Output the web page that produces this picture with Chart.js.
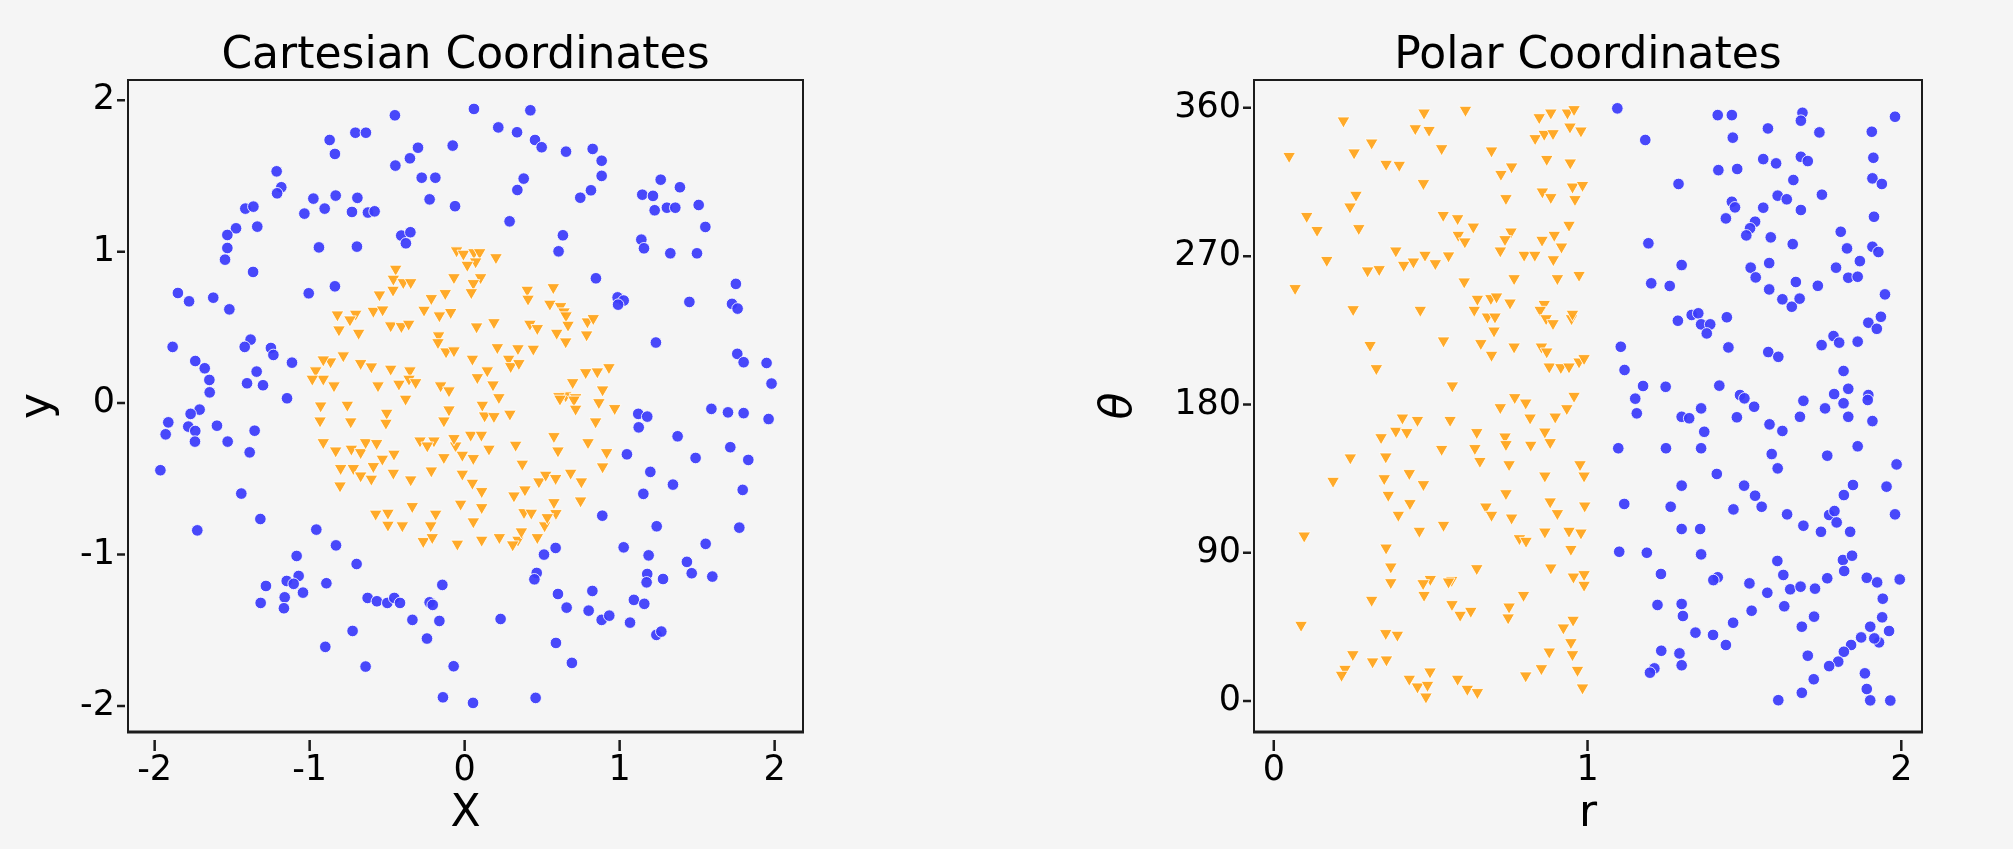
<!DOCTYPE html>
<html>
<head>
<meta charset="utf-8">
<title>Cartesian and Polar Coordinates</title>
<script src="https://cdn.jsdelivr.net/npm/chart.js@4.4.1/dist/chart.umd.min.js"></script>
<style>
  html, body { margin: 0; padding: 0; background: #f5f5f5; }
  #wrap { position: relative; width: 2013px; height: 849px; overflow: hidden; }
  canvas { position: absolute; top: 0; }
  #cart { left: 0; }
  #polar { left: 1000px; }
</style>
</head>
<body>
<div id="wrap">
  <canvas id="cart" width="1000" height="849"></canvas>
  <canvas id="polar" width="1013" height="849"></canvas>
</div>
<script>
const cartTicks = [-2, -1, 0, 1, 2];
const rTicks = [0, 1, 2];
const thetaTicks = [0, 90, 180, 270, 360];

// outer ring (blue dots), [x, y]
const cartOuter = [
  [-0.45,1.90],[-0.705,1.785],[-0.637,1.785],[-0.871,1.737],[-0.837,1.645],[-0.301,1.686],[-0.077,1.70],[-0.353,1.616],
  [-0.447,1.568],[-0.277,1.488],[-0.189,1.488],[-0.226,1.345],[-0.062,1.30],[-1.213,1.53],[-1.183,1.425],[-1.21,1.385],
  [-0.976,1.35],[-0.832,1.37],[-0.692,1.355],[-0.903,1.284],[-1.034,1.251],[-0.727,1.262],[-0.624,1.258],[-0.581,1.266],
  [-1.415,1.284],[-1.363,1.297],[-1.475,1.154],[-1.531,1.11],[-1.338,1.165],[-1.531,1.024],[-1.546,0.947],[-1.365,0.866],
  [-0.94,1.028],[-0.695,1.033],[-0.409,1.106],[-0.35,1.128],[-0.379,1.055],[-0.837,0.771],[-1.006,0.725],[-1.85,0.727],
  [-1.778,0.672],[-1.622,0.696],[-1.518,0.619],[-1.884,0.371],[-1.381,0.419],[-1.419,0.371],[-1.25,0.364],[-1.234,0.318],
  [-1.114,0.267],[-1.738,0.278],[-1.677,0.23],[-1.647,0.153],[-1.645,0.071],[-1.342,0.208],[-1.404,0.131],[-1.301,0.118],
  [-1.146,0.032],
  [0.06,1.942],[0.424,1.933],[0.217,1.82],[0.338,1.788],[0.454,1.737],[0.497,1.689],[0.654,1.66],[0.826,1.678],
  [0.884,1.60],[0.884,1.50],[0.815,1.405],[0.746,1.356],[0.381,1.482],[0.34,1.407],[0.29,1.20],[0.634,1.108],
  [0.606,1.002],[1.265,1.475],[1.389,1.425],[1.146,1.376],[1.215,1.368],[1.226,1.273],[1.305,1.29],[1.359,1.29],
  [1.51,1.308],[1.553,1.163],[1.14,1.079],[1.157,1.022],[1.327,0.989],[1.499,0.989],[0.847,0.824],[0.987,0.698],
  [1.026,0.677],[0.99,0.65],[1.45,0.668],[1.75,0.787],[1.725,0.655],[1.761,0.624],[1.234,0.40],[1.759,0.325],
  [1.80,0.27],[1.948,0.265],[1.98,0.129],
  [-1.71,-0.043],[-1.768,-0.071],[-1.912,-0.127],[-1.929,-0.206],[-1.783,-0.155],[-1.738,-0.184],[-1.74,-0.254],[-1.598,-0.149],
  [-1.529,-0.254],[-1.355,-0.182],[-1.387,-0.325],[-1.963,-0.443],[-1.441,-0.597],[-1.318,-0.765],[-1.725,-0.84],[-0.957,-0.835],
  [-0.83,-0.939],[-0.697,-1.062],[-1.084,-1.009],[-1.071,-1.141],[-1.148,-1.174],[-1.103,-1.193],[-1.043,-1.251],[-1.282,-1.207],
  [-1.161,-1.282],[-1.166,-1.354],[-1.316,-1.319],[-0.892,-1.189],[-0.626,-1.286],[-0.566,-1.308],[-0.499,-1.319],[-0.454,-1.286],
  [-0.417,-1.319],[-0.226,-1.315],[-0.206,-1.332],[-0.144,-1.20],[-0.337,-1.431],[-0.163,-1.438],[-0.723,-1.504],[-0.243,-1.554],
  [-0.899,-1.609],[-0.639,-1.739],[-0.071,-1.737],[-0.14,-1.942],
  [1.12,-0.071],[1.178,-0.089],[1.123,-0.16],[1.592,-0.038],[1.699,-0.061],[1.80,-0.066],[1.961,-0.105],[1.374,-0.219],
  [1.047,-0.338],[1.49,-0.362],[1.714,-0.291],[1.83,-0.375],[1.198,-0.454],[1.344,-0.538],[1.153,-0.599],[1.794,-0.573],
  [0.888,-0.743],[1.239,-0.813],[1.772,-0.822],[1.555,-0.929],[0.587,-0.956],[0.512,-1.0],[1.026,-0.952],[1.187,-1.005],
  [1.434,-1.048],[1.465,-1.123],[1.598,-1.145],[0.465,-1.121],[0.45,-1.163],[1.178,-1.128],[1.174,-1.183],[1.28,-1.161],
  [0.602,-1.26],[0.824,-1.24],[0.658,-1.35],[0.80,-1.37],[0.884,-1.431],[0.933,-1.403],[1.092,-1.299],[1.159,-1.325],
  [1.067,-1.449],[1.237,-1.53],[1.269,-1.508],[0.232,-1.425],[0.589,-1.583],[0.692,-1.715],[0.054,-1.979],[0.458,-1.946]
];

// inner disc (orange triangles), [x, y]
const cartInner = [
  [-0.052,1.007],[-0.008,0.985],[0.06,0.995],[0.097,0.995],[0.071,0.934],[0.017,0.912],[0.202,0.962],[-0.445,0.886],
  [-0.46,0.82],[-0.396,0.797],[-0.348,0.797],[-0.069,0.83],[0.103,0.83],[0.056,0.791],[0.043,0.731],[-0.55,0.716],
  [-0.462,0.747],[-0.215,0.692],[-0.125,0.725],[0.404,0.747],[0.409,0.688],[0.572,0.764],[-0.589,0.608],[-0.529,0.617],
  [-0.262,0.615],[-0.163,0.578],[-0.09,0.60],[0.55,0.655],[0.619,0.639],[0.641,0.604],[0.654,0.578],[-0.821,0.584],
  [-0.703,0.589],[-0.74,0.551],[-0.811,0.485],[-0.684,0.463],[-0.477,0.512],[-0.408,0.507],[-0.361,0.523],[0.077,0.505],
  [0.189,0.533],[0.421,0.523],[0.469,0.494],[0.667,0.516],[0.792,0.538],[0.83,0.56],[0.787,0.452],[0.594,0.463],
  [0.652,0.406],[-0.168,0.446],[-0.172,0.401],[-0.12,0.34],[-0.069,0.347],[0.211,0.368],[0.344,0.361],[0.443,0.358],
  [0.284,0.292],[0.297,0.243],[0.35,0.263],[0.05,0.292],[0.082,0.17],[0.146,0.215],[-0.865,0.274],[-0.912,0.287],
  [-0.783,0.314],[-0.961,0.215],[-0.912,0.16],[-0.843,0.116],[-0.983,0.16],[-0.671,0.263],[-0.602,0.241],[-0.477,0.226],
  [-0.353,0.215],[-0.359,0.16],[-0.424,0.127],[-0.316,0.137],[-0.559,0.116],[-0.155,0.116],[-0.101,0.083],[0.183,0.122],
  [0.221,0.038],[0.781,0.203],[0.856,0.208],[0.931,0.236],[0.697,0.137],[0.89,0.089],[0.652,0.05],[0.716,0.038],
  [0.608,0.045],
  [-0.929,-0.017],[-0.933,-0.116],[-0.757,-0.012],[-0.735,-0.122],[-0.503,-0.065],[-0.508,-0.131],[-0.381,0.028],[-0.101,-0.043],
  [-0.134,-0.116],[0.114,-0.012],[0.129,-0.083],[0.189,-0.087],[0.292,-0.071],[0.615,0.028],[0.705,0.022],[0.716,-0.038],
  [0.866,0.005],[0.968,-0.034],[0.845,-0.122],[-0.912,-0.259],[-0.832,-0.314],[-0.731,-0.302],[-0.671,-0.325],[-0.639,-0.259],
  [-0.568,-0.265],[-0.456,-0.335],[-0.531,-0.368],[-0.288,-0.248],[-0.198,-0.248],[-0.241,-0.281],[-0.134,-0.358],[-0.058,-0.281],
  [-0.015,-0.342],[0.056,-0.364],[0.039,-0.21],[0.108,-0.21],[0.157,-0.302],[-0.069,-0.232],[0.329,-0.276],[0.372,-0.401],
  [0.576,-0.219],[0.602,-0.314],[0.796,-0.259],[0.916,-0.325],[0.89,-0.419],[-0.80,-0.43],[-0.718,-0.43],[-0.671,-0.479],
  [-0.602,-0.5],[-0.589,-0.417],[-0.46,-0.461],[-0.804,-0.545],[-0.348,-0.505],[-0.215,-0.446],[-0.015,-0.467],[0.05,-0.527],
  [0.11,-0.582],[0.479,-0.518],[0.523,-0.474],[0.587,-0.496],[0.684,-0.461],[0.753,-0.518],[0.748,-0.644],[0.318,-0.611],
  [0.389,-0.571],[0.576,-0.655],[0.589,-0.727],[-0.574,-0.731],[-0.495,-0.725],[-0.495,-0.804],[-0.402,-0.808],[-0.338,-0.681],
  [-0.219,-0.808],[-0.187,-0.731],[-0.026,-0.665],[0.11,-0.688],[0.056,-0.782],[0.383,-0.721],[0.43,-0.725],[0.516,-0.808],
  [0.533,-0.754],[-0.267,-0.912],[-0.209,-0.886],[-0.047,-0.929],[0.11,-0.903],[0.224,-0.886],[0.344,-0.903],[0.31,-0.934],
  [0.366,-0.848],[0.469,-0.886]
];

// polar view, [r, theta in degrees]
const polarOuter = [
  [1.095,359.7],[1.184,340.5],[1.29,313.8],[1.194,277.8],[1.30,264.6],[1.203,253.5],[1.262,251.9],[1.288,230.8],
  [1.332,234.3],[1.353,235.3],[1.362,228.6],[1.391,228.6],[1.38,223.1],[1.444,232.9],[1.106,215.0],[1.118,200.9],
  [1.177,191.2],[1.249,190.7],[1.152,183.5],[1.42,191.4],[1.486,185.7],[1.50,183.7],[1.531,178.6],[1.362,177.6],
  [1.415,355.6],[1.46,355.6],[1.463,341.9],[1.417,322.2],[1.477,322.9],[1.575,347.5],[1.56,328.9],[1.601,326.3],
  [1.656,316.2],[1.606,306.7],[1.635,304.5],[1.68,298.0],[1.56,299.4],[1.46,303.0],[1.47,299.6],[1.441,292.9],
  [1.534,290.9],[1.518,286.9],[1.506,282.6],[1.584,281.4],[1.654,277.3],[1.685,357.0],[1.68,352.2],[1.739,345.1],
  [1.68,330.3],[1.702,327.7],[1.747,307.3],[1.52,263.0],[1.536,257.1],[1.579,265.8],[1.579,249.8],[1.664,254.3],
  [1.734,252.0],[1.621,243.8],[1.651,239.3],[1.676,244.2],[1.807,284.8],[1.827,274.7],[1.868,267.0],[1.792,263.0],
  [1.831,256.9],[1.861,257.5],[1.906,345.5],[1.911,329.7],[1.908,317.2],[1.938,313.8],[1.913,293.9],[1.908,275.7],
  [1.927,272.5],[1.98,354.6],[1.948,246.8],[1.935,233.2],[1.895,229.6],[1.922,225.9],[1.784,221.5],[1.802,217.5],
  [1.746,216.0],[1.861,218.1],[1.576,211.8],[1.608,208.9],[1.449,214.6],[1.816,200.3],[1.831,189.5],[1.786,186.3],
  [1.816,180.7],[1.895,185.7],[1.893,182.7],[1.688,182.2],[1.757,177.6],
  [1.157,174.6],[1.30,172.5],[1.324,171.6],[1.476,172.2],[1.58,167.9],[1.621,163.9],[1.372,163.4],[1.677,172.5],
  [1.831,172.5],[1.908,169.9],[1.098,153.4],[1.25,153.4],[1.362,153.4],[1.587,149.9],[1.606,141.2],[1.764,148.9],
  [1.861,154.6],[1.985,143.6],[1.412,137.8],[1.30,130.7],[1.499,130.7],[1.534,124.6],[1.555,117.9],[1.465,116.3],
  [1.636,113.3],[1.688,106.4],[1.117,119.6],[1.265,117.9],[1.30,104.4],[1.359,104.4],[1.744,102.7],[1.837,102.7],
  [1.77,112.9],[1.787,115.3],[1.794,108.4],[1.817,125.0],[1.846,131.1],[1.953,130.1],[1.98,113.3],[1.101,90.6],
  [1.189,90.0],[1.362,89.0],[1.234,77.1],[1.415,75.1],[1.401,73.4],[1.516,71.4],[1.573,65.7],[1.605,85.0],
  [1.624,76.5],[1.646,67.8],[1.679,69.4],[1.725,68.2],[1.764,74.5],[1.814,85.6],[1.843,88.2],[1.818,78.9],
  [1.89,74.8],[1.923,72.0],[1.995,73.8],[1.941,62.1],[1.223,58.3],[1.30,58.9],[1.304,51.6],[1.627,57.5],
  [1.523,54.8],[1.464,47.5],[1.344,41.5],[1.40,40.1],[1.441,34.0],[1.683,45.1],[1.722,51.2],[1.901,45.1],
  [1.939,50.8],[1.961,42.5],[1.872,38.6],[1.929,35.6],[1.914,38.0],[1.84,34.0],[1.817,29.9],[1.799,23.9],
  [1.77,21.2],[1.702,27.5],[1.235,30.5],[1.293,28.9],[1.30,21.7],[1.213,19.8],[1.199,17.2],[1.721,13.2],
  [1.683,5.0],[1.608,0.5],[1.884,16.8],[1.89,7.3],[1.901,0.4],[1.965,0.3]
];

const polarInner = [
  [0.049,330.7],[0.068,250.5],[0.105,294.3],[0.138,285.8],[0.169,267.6],[0.222,352.2],[0.256,332.8],[0.262,307.1],
  [0.243,300.0],[0.271,286.9],[0.253,237.7],[0.307,216.0],[0.327,201.9],[0.299,261.2],[0.336,262.0],[0.312,338.8],
  [0.358,325.9],[0.40,325.3],[0.451,347.5],[0.479,357.0],[0.495,346.5],[0.535,335.4],[0.477,314.2],[0.611,358.7],
  [0.54,294.9],[0.586,292.9],[0.636,287.8],[0.588,282.8],[0.609,278.8],[0.389,273.3],[0.414,264.6],[0.445,266.6],
  [0.482,270.7],[0.515,265.6],[0.557,270.3],[0.467,237.3],[0.541,218.7],[0.569,191.4],[0.607,254.5],[0.649,244.0],
  [0.639,237.3],[0.681,233.2],[0.692,244.4],[0.71,245.4],[0.705,233.2],[0.702,224.7],[0.753,241.7],[0.66,217.1],
  [0.694,210.0],[0.766,215.0],[0.694,334.0],[0.724,319.8],[0.758,324.3],[0.74,305.1],[0.756,284.8],[0.737,280.2],
  [0.722,273.3],[0.798,270.7],[0.832,270.7],[0.766,256.5],[0.855,279.8],[0.894,282.8],[0.917,275.7],[0.891,268.0],
  [0.904,256.5],[0.973,258.5],[0.941,288.9],[0.846,354.2],[0.883,357.0],[0.936,357.0],[0.957,359.1],[0.833,341.5],
  [0.862,344.1],[0.89,344.5],[0.944,348.5],[0.979,346.1],[0.87,328.9],[0.945,326.7],[0.856,309.1],[0.883,305.7],
  [0.952,312.1],[0.984,313.1],[0.96,304.5],[0.862,240.9],[0.849,237.3],[0.868,232.2],[0.89,229.2],[0.949,232.2],
  [0.952,234.9],[0.853,215.0],[0.87,212.0],[0.878,202.9],[0.915,202.5],[0.941,202.9],[0.973,205.9],[0.989,208.0],
  [0.957,185.1],[0.934,177.6],[0.722,178.2],[0.768,184.3],[0.803,181.0],
  [0.817,171.9],[0.897,172.5],[0.41,171.9],[0.458,170.5],[0.562,170.5],[0.342,160.0],[0.389,163.9],[0.424,163.1],
  [0.647,163.1],[0.737,160.4],[0.74,155.8],[0.819,155.4],[0.864,163.4],[0.881,157.0],[0.244,147.7],[0.357,148.3],
  [0.535,152.9],[0.641,153.4],[0.657,145.6],[0.75,143.6],[0.976,143.6],[0.989,136.7],[0.189,133.5],[0.352,135.1],
  [0.432,138.2],[0.477,131.5],[0.365,125.0],[0.434,120.0],[0.397,112.9],[0.74,126.0],[0.676,117.9],[0.694,112.9],
  [0.758,111.2],[0.864,136.7],[0.881,121.0],[0.904,113.9],[0.991,118.5],[0.097,100.3],[0.464,103.2],[0.541,106.8],
  [0.783,98.7],[0.804,97.1],[0.864,102.7],[0.941,103.2],[0.979,102.1],[0.947,92.2],[0.358,93.0],[0.373,81.5],
  [0.373,72.0],[0.312,61.3],[0.479,64.3],[0.499,74.0],[0.476,71.4],[0.567,73.4],[0.557,72.4],[0.647,80.5],
  [0.883,80.9],[0.955,75.4],[0.989,76.9],[0.989,70.4],[0.568,58.7],[0.594,52.2],[0.628,54.6],[0.75,57.2],
  [0.747,50.6],[0.796,64.3],[0.087,46.1],[0.357,41.1],[0.394,40.1],[0.252,28.3],[0.315,23.9],[0.359,25.1],
  [0.227,19.4],[0.216,15.8],[0.432,13.4],[0.458,8.7],[0.485,2.6],[0.498,17.8],[0.49,9.7],[0.586,13.4],
  [0.617,7.3],[0.649,5.3],[0.803,15.4],[0.853,19.8],[0.878,29.9],[0.923,44.5],[0.954,49.2],[0.947,35.6],
  [0.952,28.3],[0.968,18.8],[0.984,8.1]
];

const BLUE = 'rgba(58,58,250,0.93)';
const ORANGE = 'rgba(255,165,30,0.95)';
const INK = '#1c1c1c';
const FONT = "'DejaVu Sans', sans-serif";

function toXY(pairs){ return pairs.map(p => ({ x: p[0], y: p[1] })); }

// frame round the plot and tick marks set a little away from it
const frameTicks = {
  id: 'frameTicks',
  afterDraw(chart){
    const { ctx, chartArea: a, scales } = chart;
    ctx.save();
    ctx.strokeStyle = INK;
    ctx.lineWidth = 2;
    ctx.strokeRect(a.left, a.top, a.right - a.left, a.bottom - a.top);
    ctx.lineWidth = 3;
    ctx.beginPath(); ctx.moveTo(a.left - 1, a.bottom); ctx.lineTo(a.right + 1, a.bottom); ctx.stroke();
    ctx.lineWidth = 2.5;
    ctx.beginPath();
    for (const t of scales.x.ticks){
      const px = scales.x.getPixelForValue(t.value);
      ctx.moveTo(px, a.bottom + 8); ctx.lineTo(px, a.bottom + 19);
    }
    for (const t of scales.y.ticks){
      const py = scales.y.getPixelForValue(t.value);
      ctx.moveTo(a.left - 11, py); ctx.lineTo(a.left - 3, py);
    }
    ctx.stroke();
    ctx.restore();
  }
};

function axis(o){
  return {
    type: 'linear',
    min: o.min, max: o.max,
    afterBuildTicks: s => { s.ticks = o.ticks.map(v => ({ value: v })); },
    afterFit: o.fit,
    grid: { display: false, drawTicks: false },
    border: { display: false },
    ticks: { color: '#000', font: { family: FONT, size: 35 }, padding: o.pad, maxRotation: 0 },
    title: { display: true, text: o.title, color: '#000',
             font: { family: FONT, size: 44, style: o.italic ? 'italic' : 'normal' }, padding: o.titlePad }
  };
}

function makeChart(id, c){
  return new Chart(document.getElementById(id), {
    type: 'scatter',
    data: {
      datasets: [
        { data: c.outer, pointStyle: 'circle', pointRadius: 5.8, pointBackgroundColor: BLUE,
          pointBorderColor: 'rgba(255,255,255,0.85)', pointBorderWidth: 1 },
        { data: c.inner, pointStyle: 'triangle', pointRotation: 180, pointRadius: 7.4, pointBackgroundColor: ORANGE,
          pointBorderColor: 'rgba(255,255,255,0.85)', pointBorderWidth: 1 }
      ]
    },
    options: {
      responsive: false,
      animation: false,
      devicePixelRatio: 1,
      layout: { padding: { left: 0, right: c.padRight, top: 0, bottom: 0 } },
      plugins: {
        legend: { display: false },
        tooltip: { enabled: false },
        title: { display: true, text: c.title, fullSize: false, color: '#000',
                 font: { family: FONT, size: 44, weight: 'normal', lineHeight: 1 }, padding: { top: 35, bottom: 1 } }
      },
      scales: {
        x: axis({ min: c.xMin, max: c.xMax, ticks: c.xTicks, pad: 18, title: c.xTitle,
                  titlePad: { top: 0, bottom: 8 }, fit: s => { s.height = 117; } }),
        y: axis({ min: c.yMin, max: c.yMax, ticks: c.yTicks, pad: 13, title: c.yTitle, italic: c.yItalic,
                  titlePad: { top: c.yTitleGap, bottom: 0 }, fit: s => { s.width = c.yWidth; } })
      }
    },
    plugins: [frameTicks]
  });
}

makeChart('cart', {
  title: 'Cartesian Coordinates',
  outer: toXY(cartOuter), inner: toXY(cartInner),
  xMin: -2.172, xMax: 2.183, xTicks: cartTicks, xTitle: 'X',
  yMin: -2.171, yMax: 2.133, yTicks: cartTicks, yTitle: 'y',
  yWidth: 128, yTitleGap: 12, padRight: 197
});

makeChart('polar', {
  title: 'Polar Coordinates',
  outer: toXY(polarOuter), inner: toXY(polarInner),
  xMin: -0.063, xMax: 2.066, xTicks: rTicks, xTitle: 'r',
  yMin: -18.8, yMax: 376.9, yTicks: thetaTicks, yTitle: 'θ', yItalic: true,
  yWidth: 254, yTitleGap: 93, padRight: 91
});
</script>
</body>
</html>
